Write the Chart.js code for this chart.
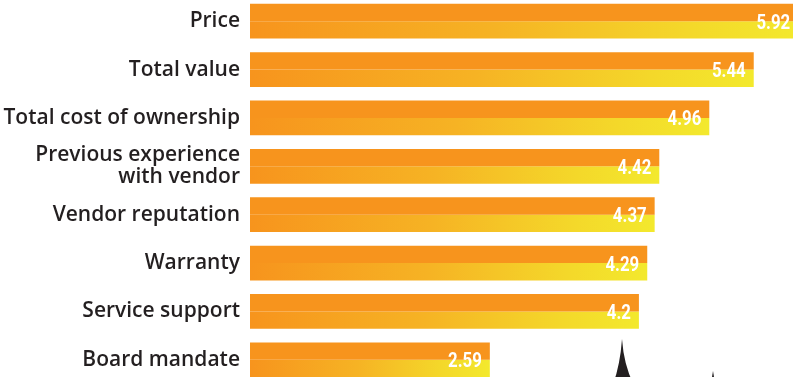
<!DOCTYPE html>
<html>
<head>
<meta charset="utf-8">
<script src="https://cdn.jsdelivr.net/npm/chart.js@4.4.1/dist/chart.umd.min.js"></script>
<style>
  html, body { margin: 0; padding: 0; background: #fff; overflow: hidden; }
  #wrap { position: absolute; left: 0; top: -3px; width: 793px; height: 387px; }
</style>
</head>
<body>
<div id="wrap"><canvas id="factorsChart" width="793" height="387"></canvas></div>
<script>
// Data for the chart
const categories = [
  "Price",
  "Total value",
  "Total cost of ownership",
  ["Previous experience", "with vendor"],
  "Vendor reputation",
  "Warranty",
  "Service support",
  "Board mandate"
];
const scores = [5.92, 5.44, 4.96, 4.42, 4.37, 4.29, 4.2, 2.59];
const scoreLabels = ["5.92", "5.44", "4.96", "4.42", "4.37", "4.29", "4.2", "2.59"];

const ORANGE = "#f7941d";

// bottom half of each bar fades from orange to yellow along the bar
function yellowFade(context) {
  const chart = context.chart;
  if (!chart.chartArea) return ORANGE;
  const x = chart.scales.x;
  const x0 = x.getPixelForValue(0);
  const x1 = x.getPixelForValue(context.raw);
  const g = chart.ctx.createLinearGradient(x0, 0, x1, 0);
  g.addColorStop(0, "#f7941d");
  g.addColorStop(0.45, "#f6b324");
  g.addColorStop(0.8, "#f4d82a");
  g.addColorStop(1, "#f3e92d");
  return g;
}

// white value at the end of each bar (narrowed to look condensed)
const SQUEEZE = 0.8;
const valueLabels = {
  id: "valueLabels",
  afterDatasetsDraw(chart) {
    const ctx = chart.ctx;
    const top = chart.getDatasetMeta(0).data;
    ctx.save();
    ctx.fillStyle = "#ffffff";
    ctx.font = "bold 21px Roboto, sans-serif";
    ctx.textAlign = "right";
    ctx.textBaseline = "alphabetic";
    top.forEach((bar, i) => {
      const yMid = bar.y + bar.height / 2;
      ctx.save();
      ctx.translate(bar.x - 8, yMid + 7.5);
      ctx.scale(SQUEEZE, 1);
      ctx.fillText(scoreLabels[i], 0, 0);
      ctx.restore();
    });
    ctx.restore();
  }
};

// small dark shape cut off at the bottom of the picture
const bottomArt = {
  id: "bottomArt",
  afterDraw(chart) {
    const ctx = chart.ctx;
    ctx.save();
    ctx.fillStyle = "#231f20";
    ctx.beginPath();
    ctx.moveTo(612, 390);
    ctx.quadraticCurveTo(620, 370, 622, 342);
    ctx.quadraticCurveTo(624, 370, 635, 390);
    ctx.closePath();
    ctx.fill();
    ctx.beginPath();
    ctx.moveTo(712, 380);
    ctx.lineTo(713, 374);
    ctx.lineTo(714, 380);
    ctx.closePath();
    ctx.fill();
    ctx.restore();
  }
};

const config = {
  type: "bar",
  data: {
    labels: categories,
    datasets: [
      { data: scores, backgroundColor: ORANGE, borderWidth: 0 },
      { data: scores, backgroundColor: yellowFade, borderWidth: 0 }
    ]
  },
  options: {
    indexAxis: "y",
    responsive: false,
    animation: false,
    categoryPercentage: 0.717,
    barPercentage: 1,
    layout: { padding: 0 },
    plugins: {
      legend: { display: false },
      tooltip: { enabled: false }
    },
    scales: {
      x: {
        display: false,
        min: 0,
        max: 5.864
      },
      y: {
        grid: { display: false, drawTicks: false },
        border: { display: false },
        afterFit(scale) {
          scale.width = 250;
          scale.paddingTop = 0;
          scale.paddingBottom = 0;
        },
        ticks: {
          color: "#231f20",
          padding: 10,
          font: { family: "'Open Sans', Lato, sans-serif", size: 21, weight: 600, lineHeight: 1.05 }
        }
      }
    }
  },
  plugins: [valueLabels, bottomArt]
};

window.addEventListener("DOMContentLoaded", () => {
  new Chart(document.getElementById("factorsChart"), config);
});
</script>
</body>
</html>
